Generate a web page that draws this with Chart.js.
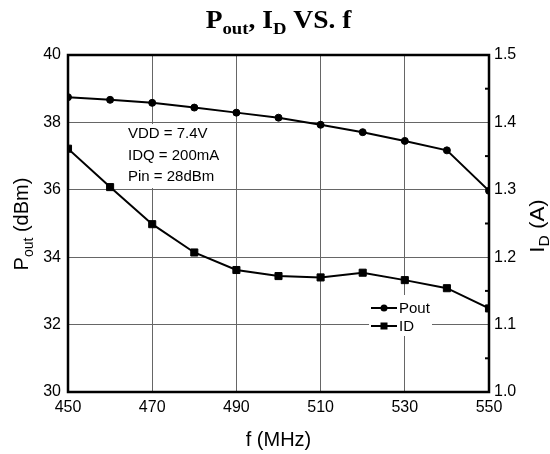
<!DOCTYPE html>
<html>
<head>
<meta charset="utf-8">
<script src="https://cdn.jsdelivr.net/npm/chart.js@4/dist/chart.umd.min.js"></script>
<style>
  html, body { margin: 0; padding: 0; background: #fff; }
  canvas { display: block; }
</style>
</head>
<body>
<canvas id="poutChart" width="550" height="454"></canvas>
<script>
// --- dados medidos ---
const freqs = [450, 460, 470, 480, 490, 500, 510, 520, 530, 540, 550];
const poutValues = [38.75, 38.67, 38.58, 38.44, 38.29, 38.14, 37.93, 37.71, 37.45, 37.17, 35.97];
const idValues = [1.361, 1.304, 1.249, 1.207, 1.181, 1.172, 1.170, 1.177, 1.166, 1.154, 1.124];

// rótulos dos eixos
const xTicks = [450, 470, 490, 510, 530, 550];
const poutTicks = [30, 32, 34, 36, 38, 40];
const idTicks = [1.0, 1.1, 1.2, 1.3, 1.4, 1.5];

const conditions = ['VDD = 7.4V', 'IDQ = 200mA', 'Pin = 28dBm'];

const SANS = "'Liberation Sans', Arial, sans-serif";
const SERIF = "'Liberation Serif', 'Times New Roman', serif";

// desenha texto com subscritos, centrado em x: parts = [[texto, sub?], ...]
function drawRich(ctx, parts, x, y, size, weight, family, stretch) {
    const subSize = Math.round(size * 0.68);
    const k = stretch || 1;
    let total = 0;
    parts.forEach(p => {
        ctx.font = weight + ' ' + (p[1] ? subSize : size) + 'px ' + family;
        total += ctx.measureText(p[0]).width;
    });
    ctx.save();
    ctx.translate(x, y);
    ctx.scale(k, 1);
    let cx = -total / 2;
    ctx.textAlign = 'left';
    ctx.textBaseline = 'alphabetic';
    parts.forEach(p => {
        ctx.font = weight + ' ' + (p[1] ? subSize : size) + 'px ' + family;
        ctx.fillText(p[0], cx, p[1] ? size * 0.25 : 0);
        cx += ctx.measureText(p[0]).width;
    });
    ctx.restore();
}

const decorPlugin = {
    id: 'decor',
    beforeDatasetsDraw(chart) {
        const ctx = chart.ctx;
        ctx.save();
        // caixa das condições de medida
        ctx.fillStyle = '#fff';
        ctx.fillRect(125, 124, 93, 64);
        ctx.fillStyle = '#000';
        ctx.font = '15px ' + SANS;
        ctx.textAlign = 'left';
        ctx.textBaseline = 'alphabetic';
        conditions.forEach((t, i) => ctx.fillText(t, 128, 138 + i * 21.5));

        // legenda
        ctx.fillStyle = '#fff';
        ctx.fillRect(369, 295, 63, 41);
        chart.data.datasets.forEach((ds, i) => {
            const y = 308 + i * 18;
            ctx.strokeStyle = '#000';
            ctx.lineWidth = 2;
            ctx.beginPath();
            ctx.moveTo(371, y);
            ctx.lineTo(397, y);
            ctx.stroke();
            ctx.fillStyle = '#000';
            if (ds.pointStyle === 'rect') {
                ctx.fillRect(380.5, y - 3.5, 7, 7);
            } else {
                ctx.beginPath();
                ctx.arc(384, y, 3.5, 0, Math.PI * 2);
                ctx.fill();
            }
            ctx.font = '15px ' + SANS;
            ctx.textBaseline = 'middle';
            ctx.fillText(ds.label, 399, y + 1);
        });
        ctx.restore();
    },
    afterDraw(chart) {
        const ctx = chart.ctx;
        const a = chart.chartArea;
        ctx.save();
        // moldura
        ctx.strokeStyle = '#000';
        ctx.lineWidth = 2.5;
        ctx.strokeRect(a.left, a.top, a.right - a.left, a.bottom - a.top);

        // marcas menores do eixo direito
        const y1 = chart.scales.y1;
        ctx.lineWidth = 2;
        for (let v = 1.05; v < 1.5; v += 0.1) {
            const py = y1.getPixelForValue(v);
            ctx.beginPath();
            ctx.moveTo(a.right, py);
            ctx.lineTo(a.right - 4, py);
            ctx.stroke();
        }

        // título e títulos dos eixos
        ctx.fillStyle = '#000';
        const mid = (a.left + a.right) / 2;
        drawRich(ctx, [['P'], ['out', 1], [', I'], ['D', 1], [' VS. f']], mid, 28, 25, 'bold', SERIF, 1.1);
        drawRich(ctx, [['f (MHz)']], mid, 446, 20, 'normal', SANS);

        ctx.save();
        ctx.translate(28, 224);
        ctx.rotate(-Math.PI / 2);
        drawRich(ctx, [['P'], ['out', 1], [' (dBm)']], 0, 0, 20, 'normal', SANS);
        ctx.restore();

        ctx.save();
        ctx.translate(544, 226);
        ctx.rotate(-Math.PI / 2);
        drawRich(ctx, [['I'], ['D', 1], [' (A)']], 0, 0, 20, 'normal', SANS, 1.12);
        ctx.restore();

        ctx.restore();
    }
};

const gridStyle = { color: '#666', lineWidth: 1, drawTicks: false };
const tickFont = { family: SANS, size: 16 };

new Chart(document.getElementById('poutChart').getContext('2d'), {
    type: 'line',
    data: {
        datasets: [
            {
                label: 'Pout',
                data: freqs.map((f, i) => ({ x: f, y: poutValues[i] })),
                yAxisID: 'y',
                borderColor: '#000',
                backgroundColor: '#000',
                borderWidth: 2,
                pointStyle: 'circle',
                pointRadius: 3.5,
                pointBorderWidth: 1,
                tension: 0
            },
            {
                label: 'ID',
                data: freqs.map((f, i) => ({ x: f, y: idValues[i] })),
                yAxisID: 'y1',
                borderColor: '#000',
                backgroundColor: '#000',
                borderWidth: 2,
                pointStyle: 'rect',
                pointRadius: 5,
                pointBorderWidth: 1,
                tension: 0
            }
        ]
    },
    options: {
        responsive: false,
        animation: false,
        devicePixelRatio: 1,
        layout: { padding: { top: 55, left: 0, right: 0, bottom: 0 } },
        plugins: { legend: { display: false }, tooltip: { enabled: false }, title: { display: false } },
        scales: {
            x: {
                type: 'linear',
                min: 450, max: 550,
                grid: gridStyle,
                border: { display: false },
                afterBuildTicks: s => { s.ticks = xTicks.map(v => ({ value: v })); },
                afterFit: s => { s.height = 62; },
                ticks: { color: '#000', font: tickFont, padding: 6, maxRotation: 0 }
            },
            y: {
                position: 'left',
                min: 30, max: 40,
                grid: gridStyle,
                border: { display: false },
                afterBuildTicks: s => { s.ticks = poutTicks.map(v => ({ value: v })); },
                afterFit: s => { s.width = 68; },
                ticks: { color: '#000', font: tickFont, padding: 7 }
            },
            y1: {
                position: 'right',
                min: 1.0, max: 1.5,
                grid: { display: false, drawTicks: false },
                border: { display: false },
                afterBuildTicks: s => { s.ticks = idTicks.map(v => ({ value: v })); },
                afterFit: s => { s.width = 61; },
                ticks: { color: '#000', font: tickFont, padding: 5, callback: v => v.toFixed(1) }
            }
        }
    },
    plugins: [decorPlugin]
});
</script>
</body>
</html>
